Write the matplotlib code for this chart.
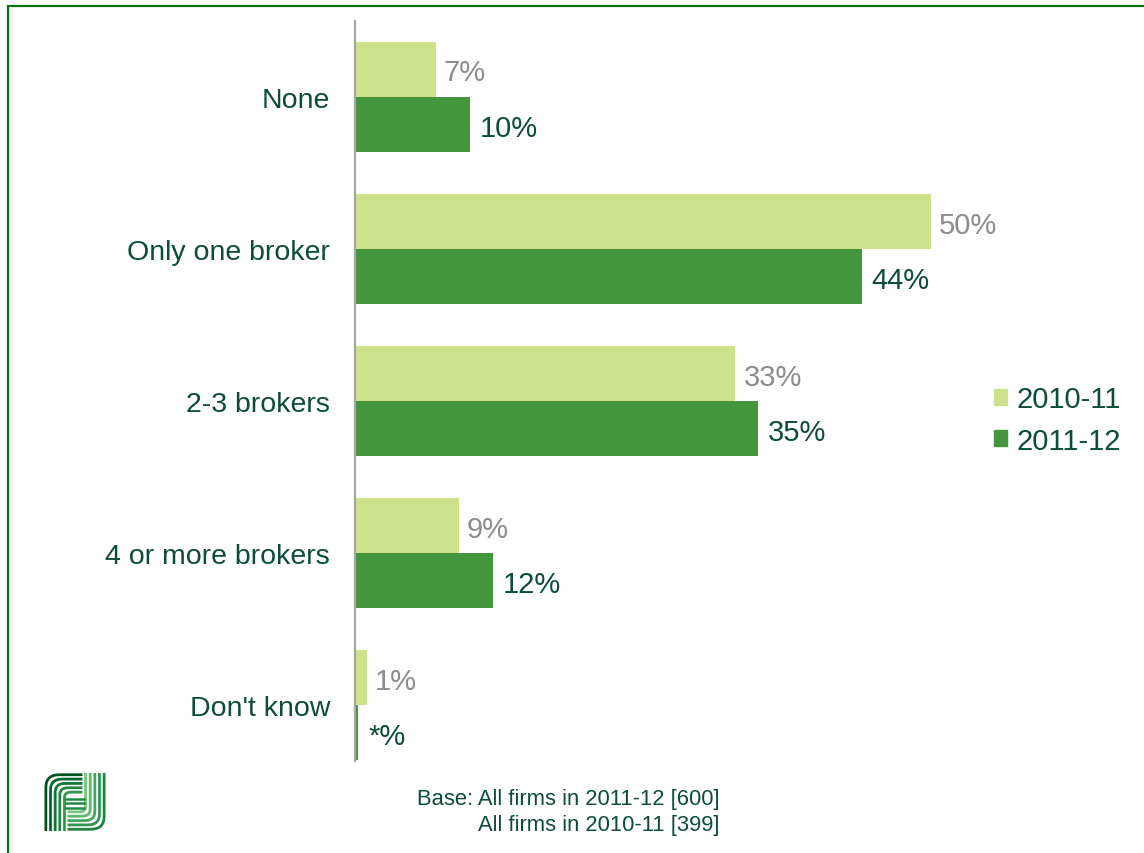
"""
Number of brokers used by firms, 2010-11 vs 2011-12.
"""

import matplotlib
matplotlib.use("Agg")
import matplotlib.pyplot as plt
from matplotlib.patches import Rectangle, Patch
import numpy as np

plt.rcParams["font.family"] = ["Liberation Sans", "DejaVu Sans"]

categories = ["None", "Only one broker", "2-3 brokers", "4 or more brokers", "Don't know"]
share_1011 = [7, 50, 33, 9, 1]
share_1112 = [10, 44, 35, 12, 0.3]
years = ["2010-11", "2011-12"]

LIGHT = "#cde28b"
DARK = "#43963b"
TEXT_GREEN = "#0b4d3a"
LABEL_GREY = "#8c8c8c"

W, H = 1144, 854


def pct_label(v):
    return f"{v:.0f}%" if v >= 0.5 else "*%"


def rounded_path(points, r, n=12):
    # polyline through the given corners, each corner rounded with radius r
    out = [points[0]]
    for i in range(1, len(points) - 1):
        p0, p1, p2 = map(np.array, (points[i - 1], points[i], points[i + 1]))
        a = (p0 - p1) / np.linalg.norm(p0 - p1)
        b = (p2 - p1) / np.linalg.norm(p2 - p1)
        s = p1 + a * r
        e = p1 + b * r
        t = np.linspace(0, 1, n)[:, None]
        curve = (1 - t) ** 2 * s + 2 * (1 - t) * t * p1 + t ** 2 * e
        out.extend(curve.tolist())
    out.append(points[-1])
    return np.array(out)


def draw_logo(fig):
    lax = fig.add_axes([44 / W, 1 - 832 / H, 62 / W, 58 / H])
    lax.set_xlim(0, 1)
    lax.set_ylim(0, 1)
    lax.axis("off")
    n = 5
    f_cols = plt.cm.Greens(np.linspace(0.95, 0.7, n))
    j_cols = [plt.cm.YlGn(v) for v in np.linspace(0.75, 0.5, n)]
    for i in range(n):
        d = 0.03 + i * 0.075
        p = rounded_path([(d, 0.0), (d, 1 - d), (0.62, 1 - d)], 0.22 - i * 0.03)
        lax.plot(p[:, 0], p[:, 1], color=f_cols[i], lw=2.0, solid_capstyle="butt")
        p = rounded_path([(1 - d, 1.0), (1 - d, d), (0.38, d)], 0.22 - i * 0.03)
        lax.plot(p[:, 0], p[:, 1], color=j_cols[i], lw=2.0, solid_capstyle="butt")
    for i in range(3):
        y = 0.48 + (i - 1) * 0.08
        lax.plot([0.36, 0.64], [y, y], color=plt.cm.Greens(0.75), lw=1.8)


fig = plt.figure(figsize=(W / 100, H / 100), dpi=100)
ax = fig.add_axes([355 / W, 1 - 762 / H, 691 / W, 740 / H])

y = np.arange(len(categories))
h = 0.362
bars_a = ax.barh(y - h / 2, share_1011, height=h, color=LIGHT, label=years[0])
bars_b = ax.barh(y + h / 2, share_1112, height=h, color=DARK, label=years[1])

for bar, v in zip(bars_a, share_1011):
    ax.annotate(pct_label(v), (bar.get_width(), bar.get_y() + bar.get_height() / 2),
                xytext=(6, 0), textcoords="offset points", va="center_baseline", ha="left",
                fontsize=21, color=LABEL_GREY)
for bar, v in zip(bars_b, share_1112):
    ax.annotate(pct_label(v), (bar.get_width(), bar.get_y() + bar.get_height() / 2),
                xytext=(7, 0), textcoords="offset points", va="center_baseline", ha="left",
                fontsize=21, color=TEXT_GREEN)

ax.set_xlim(0, 60)
ax.set_ylim(4.368, -0.5)
ax.set_yticks(y)
ax.set_yticklabels(categories, fontsize=20.5, color=TEXT_GREEN)
ax.set_xticks([])
ax.tick_params(axis="y", length=0, pad=18)
for side in ["top", "right", "bottom"]:
    ax.spines[side].set_visible(False)
ax.spines["left"].set_color("#a6a6a6")
ax.spines["left"].set_linewidth(1.6)

handles = [Patch(color=LIGHT), Patch(color=DARK)]
leg = fig.legend(handles, years, loc="center left", bbox_to_anchor=(968 / W, 1 - 421 / H),
                 frameon=False, fontsize=21, handlelength=0.45, handleheight=0.45,
                 handletextpad=0.3, labelspacing=0.45)
for t in leg.get_texts():
    t.set_color(TEXT_GREEN)

fig.text(720 / W, 1 - 800 / H, "Base: All firms in 2011-12 [600]", ha="right", va="center",
         fontsize=15.8, color=TEXT_GREEN)
fig.text(720 / W, 1 - 826 / H, "All firms in 2010-11 [399]", ha="right", va="center",
         fontsize=15.8, color=TEXT_GREEN)

fig.add_artist(Rectangle((8 / W, -0.1), 1.2, 1 - 7 / H + 0.1, transform=fig.transFigure,
                         fill=False, edgecolor="#0b730b", linewidth=1.6))

draw_logo(fig)

fig.savefig("out.png", dpi=100)
